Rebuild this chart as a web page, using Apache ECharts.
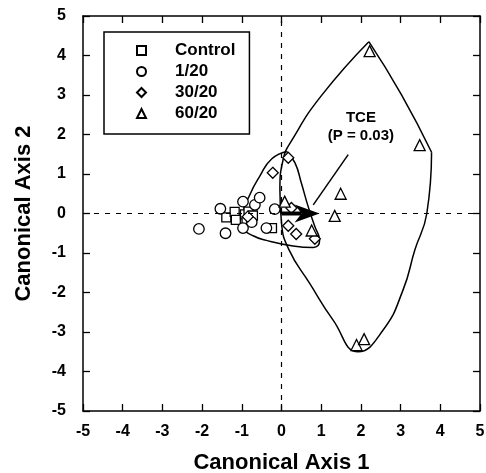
<!DOCTYPE html>
<html>
<head>
<meta charset="utf-8">
<script src="https://cdn.jsdelivr.net/npm/echarts@6/dist/echarts.min.js"></script>
<style>
  html, body { margin: 0; padding: 0; background: #fff; }
  #chart { width: 486px; height: 473px; }
</style>
</head>
<body>
<div id="chart"></div>
<script>
// group names shown in the legend
const groupNames = ['Control', '1/20', '30/20', '60/20'];

// canonical scores [axis1, axis2]
const controlPts = [[-1.39, -0.10], [-1.18, 0.04], [-1.15, -0.16], [-0.92, -0.02], [-0.83, 0.05],
  [-0.80, -0.13], [-0.88, -0.20], [-0.72, -0.05], [-0.24, -0.37]];
const dose1Pts = [[-2.08, -0.39], [-1.54, 0.12], [-1.41, -0.50], [-0.97, 0.30], [-0.97, -0.37],
  [-0.67, 0.22], [-0.55, 0.40], [-0.75, -0.22], [-0.17, 0.11], [-0.38, -0.37]];
const dose30Pts = [[0.17, 1.41], [-0.22, 1.03], [0.25, 0.14], [0.17, -0.31], [0.37, -0.52],
  [0.84, -0.64], [-0.85, -0.08]];
const dose60Pts = [[2.22, 4.11], [3.48, 1.73], [1.49, 0.50], [1.34, -0.06], [1.89, -3.33],
  [2.08, -3.18], [0.08, 0.30], [0.76, -0.43]];

// hull outlines (data units)
const hull60Side = [[3.78, 1.55], [3.66, 0.0], [3.36, -0.92], [3.06, -1.94], [2.56, -2.95], [1.93, -3.50],
  [1.30, -2.70], [0.71, -1.77], [0.19, -0.92], [0.0, -0.24], [-0.04, 0.60], [0.04, 1.36], [0.27, 1.87],
  [1.01, 2.99], [2.20, 4.35]];
const hull60Top = [[2.20, 4.35], [3.02, 3.01], [3.78, 1.55]];
const hull30 = [[0.13, 1.57], [-0.25, 1.38], [-0.55, 0.94], [-0.80, 0.47], [-0.96, 0.0],
  [-0.93, -0.38], [-0.70, -0.57], [-0.38, -0.68], [0.29, -0.82], [0.80, -0.86], [0.96, -0.68],
  [0.84, -0.33], [0.67, 0.18], [0.50, 0.77], [0.34, 1.28], [0.13, 1.57]];

// TCE vector and its label
const arrowFrom = [0, 0];
const arrowTo = [0.96, 0];
const leaderLine = [[1.68, 1.49], [0.80, 0.22]];
const labelPos = [2.0, 2.19];
const labelText = 'TCE\n(P = 0.03)';

const ticks = [-5, 5];

const font = 'Liberation Sans, Arial, Helvetica, sans-serif';

function axis(pos, showLabel, name) {
  return {
    type: 'value', position: pos, min: ticks[0], max: ticks[1], interval: 1,
    axisLine: { show: true, onZero: false, lineStyle: { color: '#000', width: 1.5 } },
    axisTick: { show: true, inside: true, length: 7, lineStyle: { color: '#000', width: 1.3 } },
    axisLabel: showLabel ? { show: true, color: '#000', fontSize: 16, fontWeight: 'bold', fontFamily: font, margin: 13 } : { show: false },
    splitLine: { show: false },
    name: name || '',
    nameLocation: 'middle',
    nameTextStyle: { color: '#000', fontSize: 22, fontWeight: 'bold', fontFamily: font }
  };
}

const xTop = axis('top', false);
const xBottom = axis('bottom', true, 'Canonical Axis 1');
xBottom.nameGap = 41;
const yLeft = axis('left', true, 'Canonical Axis 2');
yLeft.nameGap = 48;
yLeft.axisLabel.margin = 17;
const yRight = axis('right', false);

function scatter(name, symbol, size, pts) {
  return {
    name: name, type: 'scatter', symbol: symbol, symbolSize: size, data: pts, z: 4,
    itemStyle: { color: '#fff', borderColor: '#000', borderWidth: 1.3, opacity: 1 }
  };
}

function hull(pts) {
  return {
    type: 'line', data: pts, smooth: 0.5, symbol: 'none', silent: true, z: 2,
    lineStyle: { color: '#000', width: 1.5 }
  };
}

const chart = echarts.init(document.getElementById('chart'));

const zeroLines = hull(hull60Top);
zeroLines.markLine = {
  silent: true, symbol: 'none', label: { show: false }, animation: false,
  lineStyle: { color: '#000', type: [5, 6], width: 1.2 },
  data: [{ xAxis: 0 }, { yAxis: 0 }]
};

chart.setOption({
  animation: false,
  grid: { left: 83, right: 6, top: 16, bottom: 62, containLabel: false, outerBoundsMode: 'none' },
  xAxis: [xBottom, xTop],
  yAxis: [yLeft, yRight],
  legend: {
    data: groupNames, orient: 'vertical', left: 104, top: 32,
    itemWidth: 9, itemHeight: 9, itemGap: 4,
    padding: [10, 14, 12, 32],
    borderColor: '#000', borderWidth: 1.5,
    textStyle: { color: '#000', fontSize: 17, fontWeight: 'bold', fontFamily: font, padding: [0, 0, 0, 24] }
  },
  series: [
    zeroLines,
    hull(hull60Side),
    hull(hull30),
    scatter(groupNames[0], 'rect', 9, controlPts),
    scatter(groupNames[1], 'circle', 10.5, dose1Pts),
    scatter(groupNames[2], 'diamond', 11, dose30Pts),
    scatter(groupNames[3], 'triangle', 11, dose60Pts),
    {
      // TCE arrow, leader line and label
      type: 'custom', data: [0], silent: true, z: 5,
      renderItem: function (params, api) {
        const p0 = api.coord(arrowFrom);
        const p1 = api.coord(arrowTo);
        const dx = p1[0] - p0[0], dy = p1[1] - p0[1];
        const len = Math.hypot(dx, dy);
        const ux = dx / len, uy = dy / len, nx = -uy, ny = ux;
        const headLen = 25, headW = 9, notch = 7;
        const bx = p1[0] - ux * headLen, by = p1[1] - uy * headLen;
        const neck = [p1[0] - ux * (headLen - notch), p1[1] - uy * (headLen - notch)];
        const a = api.coord(leaderLine[0]);
        const b = api.coord(leaderLine[1]);
        const t = api.coord(labelPos);
        return {
          type: 'group',
          children: [
            { type: 'line', shape: { x1: p0[0], y1: p0[1], x2: neck[0], y2: neck[1] }, style: { stroke: '#000', lineWidth: 4 } },
            { type: 'polygon', shape: { points: [p1, [bx + nx * headW, by + ny * headW], neck, [bx - nx * headW, by - ny * headW]] }, style: { fill: '#000' } },
            { type: 'line', shape: { x1: a[0], y1: a[1], x2: b[0], y2: b[1] }, style: { stroke: '#000', lineWidth: 1.5 } },
            { type: 'text', x: t[0], y: t[1], style: { text: labelText, fill: '#000', fontSize: 15, fontWeight: 'bold', fontFamily: font, align: 'center', verticalAlign: 'middle', lineHeight: 18 } }
          ]
        };
      }
    }
  ]
});
</script>
</body>
</html>
